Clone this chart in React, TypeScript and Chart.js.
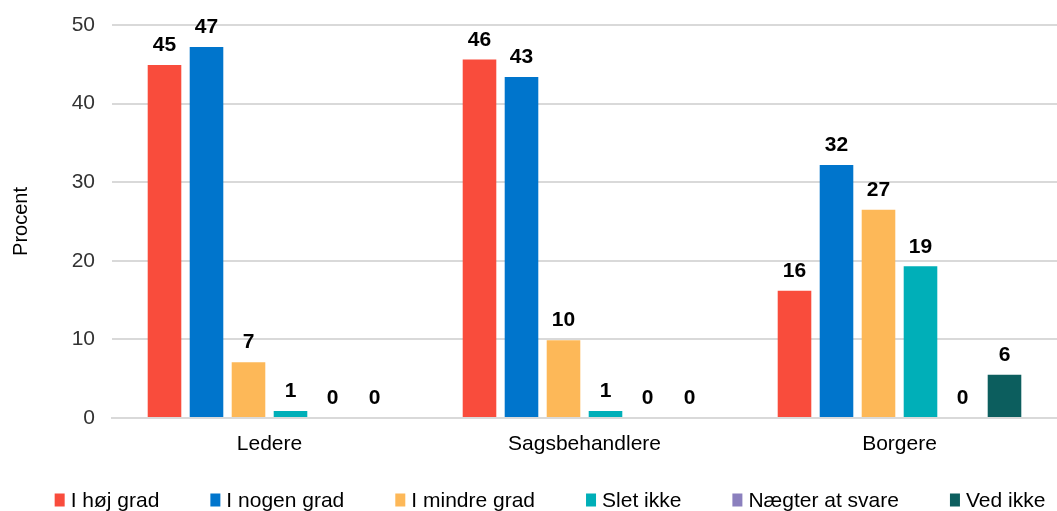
import React, { useEffect, useRef } from "react";
import { Chart, registerables } from "chart.js";

Chart.register(...registerables);

const categories = ["Ledere", "Sagsbehandlere", "Borgere"];
const seriesNames = ["I høj grad", "I nogen grad", "I mindre grad", "Slet ikke", "Nægter at svare", "Ved ikke"];
const hoejGrad = [44.9, 45.6, 16.2];
const nogenGrad = [47.2, 43.4, 32.2];
const mindreGrad = [7.1, 9.9, 26.5];
const sletIkke = [0.9, 0.9, 19.3];
const naegter = [0, 0, 0];
const vedIkke = [0, 0, 5.5];
const yTicks = [0, 10, 20, 30, 40, 50];
const colors = ["#F94C3C", "#0075CC", "#FDB858", "#00AFB8", "#8B80BE", "#0C5E5E"];

const FONT = "'Liberation Sans', Arial, sans-serif";

const labelPlugin = {
  id: "barLabels",
  afterDatasetsDraw(chart: any) {
    const ctx = chart.ctx;
    ctx.save();
    ctx.font = `bold 21px ${FONT}`;
    ctx.fillStyle = "#000";
    ctx.textAlign = "center";
    ctx.textBaseline = "bottom";
    chart.data.datasets.forEach((ds: any, i: number) => {
      const meta = chart.getDatasetMeta(i);
      meta.data.forEach((bar: any, j: number) => {
        const v = ds.data[j];
        ctx.fillText(String(Math.round(v)), bar.x, bar.y - 9);
      });
    });
    ctx.restore();
  },
};

const legendPlugin = {
  id: "customLegend",
  afterDraw(chart: any) {
    const ctx = chart.ctx;
    ctx.save();
    ctx.font = `21px ${FONT}`;
    const box = 10, boxH = 13, gapBoxText = 6, gapItems = 51;
    const items = chart.data.datasets.map((ds: any) => ({
      label: ds.label,
      color: ds.backgroundColor,
      w: ctx.measureText(ds.label).width,
    }));
    const total = items.reduce((s: number, it: any) => s + box + gapBoxText + it.w, 0) + gapItems * (items.length - 1);
    const centerX = 550;
    const y = 500;
    let x = centerX - total / 2;
    ctx.textBaseline = "middle";
    ctx.textAlign = "left";
    items.forEach((it: any) => {
      ctx.fillStyle = it.color;
      ctx.fillRect(x, y - boxH / 2, box, boxH);
      ctx.fillStyle = "#000";
      ctx.fillText(it.label, x + box + gapBoxText, y + 1);
      x += box + gapBoxText + it.w + gapItems;
    });
    ctx.restore();
  },
};

export default function App() {
  const ref = useRef<HTMLCanvasElement>(null);
  useEffect(() => {
    const seriesData = [hoejGrad, nogenGrad, mindreGrad, sletIkke, naegter, vedIkke];
    const chart = new Chart(ref.current!, {
      type: "bar",
      data: {
        labels: categories,
        datasets: seriesNames.map((n, i) => ({
          label: n,
          data: seriesData[i],
          backgroundColor: colors[i],
          borderWidth: 0,
          barPercentage: 0.8,
          categoryPercentage: 0.8,
        })),
      },
      options: {
        animation: false,
        responsive: false,
        maintainAspectRatio: false,
        layout: { padding: { top: 25, left: 0, right: 0, bottom: 48 } },
        plugins: {
          tooltip: { enabled: false },
          legend: { display: false },
        },
        scales: {
          x: {
            grid: { display: false },
            border: { color: "#d9d9d9", width: 2 },
            ticks: { color: "#000", font: { family: FONT, size: 21 }, padding: 6 },
            afterFit: (s: any) => { s.height = 45; },
          },
          y: {
            min: 0,
            max: 50,
            afterBuildTicks: (s: any) => { s.ticks = yTicks.map((v) => ({ value: v })); },
            grid: { color: "#d9d9d9", lineWidth: 2, drawTicks: true, tickLength: 13, tickColor: "rgba(0,0,0,0)" },
            border: { display: false },
            ticks: { color: "#333", font: { family: FONT, size: 21 }, padding: 4 },
            title: { display: true, text: "Procent", color: "#000", font: { family: FONT, size: 20 }, padding: { top: 9, bottom: 0 } },
            afterFit: (s: any) => { s.width = 112; },
          },
        },
      },
      plugins: [labelPlugin, legendPlugin],
    });
    return () => chart.destroy();
  }, []);
  return (
    <div style={{ position: "fixed", left: 0, top: 0, width: 1057, height: 511, background: "#fff" }}>
      <canvas ref={ref} width={1057} height={511} />
    </div>
  );
}
